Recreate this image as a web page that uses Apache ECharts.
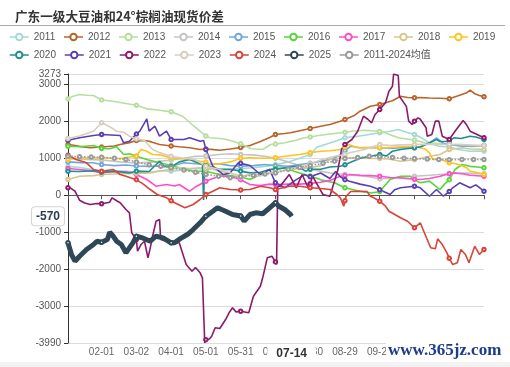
<!DOCTYPE html>
<html>
<head>
<meta charset="utf-8">
<script src="https://cdn.jsdelivr.net/npm/echarts@6/dist/echarts.min.js"></script>
<style>
html,body{margin:0;padding:0;background:#fff;}
#chart{width:510px;height:367px;}
</style>
</head>
<body>
<div id="chart"></div>
<script>
const TITLE = '广东一级大豆油和24°棕榈油现货价差';
const WATERMARK = 'www.365jz.com';
const POINTER_DATE = '07-14';
const POINTER_VALUE = -570;
const Y_MIN = -3990;
const Y_MAX = 3273;

// categories: calendar days 01-03 .. 12-27
const FIRST_DAY = [2024, 0, 3];
const DAY_COUNT = 360;

const seriesNames = ['2011','2012','2013','2014','2015','2016','2017','2018','2019','2020','2021','2022','2023','2024','2025','2011-2024均值'];
const seriesColors = ['#a3d9d6','#b8652c','#b6df9e','#c4c4c4','#6ea8de','#5ad43c','#ff4fc7','#d6c692','#ffc41e','#1f8f8f','#5a3fb0','#8c1a6c','#dacdbd','#d9443a','#2f4858','#9a9a9a'];

// [day index, value]
const s2011 = [[0,780],[10,750],[20,700],[29,640],[40,620],[50,650],[59,610],[70,620],[80,660],[89,650],[100,680],[110,720],[119,700],[130,720],[140,690],[149,720],[160,740],[170,780],[179,820],[190,900],[200,1000],[209,1100],[215,1300],[222,1370],[230,1450],[239,1550],[250,1590],[260,1640],[269,1685],[278,1728],[285,1774],[292,1700],[299,1639],[305,1550],[312,1415],[320,1324],[329,1300],[337,1234],[347,1188],[359,1190]];
const s2012 = [[0,1370],[5,1350],[10,1320],[19,1280],[29,1300],[40,1330],[45,1370],[53,1420],[59,1477],[68,1470],[72,1440],[79,1370],[89,1330],[96,1307],[105,1280],[114,1234],[119,1250],[126,1230],[131,1216],[140,1250],[149,1290],[157,1342],[166,1450],[174,1560],[179,1640],[187,1666],[192,1685],[200,1740],[209,1800],[218,1860],[226,1909],[235,2000],[239,2044],[247,2150],[252,2268],[261,2403],[269,2450],[274,2495],[280,2550],[287,2673],[293,2640],[299,2630],[304,2635],[312,2625],[321,2620],[329,2603],[338,2700],[344,2765],[347,2835],[351,2740],[355,2690],[359,2657]];
const s2013 = [[0,2600],[3,2657],[10,2719],[16,2700],[22,2692],[29,2570],[35,2550],[40,2530],[50,2476],[59,2430],[68,2332],[79,2295],[89,2251],[99,2133],[107,1909],[114,1728],[119,1600],[122,1550],[131,1530],[137,1504],[143,1450],[149,1390],[158,1253],[168,1234],[175,1369],[179,1380],[187,1415],[196,1480],[204,1550],[209,1570],[216,1612],[230,1666],[239,1700],[245,1728],[256,1755],[263,1740],[269,1720],[274,1680],[285,1550],[292,1520],[299,1490],[308,1415],[318,1400],[329,1369],[340,1369],[348,1307],[359,1342]];
const s2014 = [[0,1000],[10,980],[20,960],[29,950],[45,900],[59,870],[75,900],[89,950],[100,1000],[110,1050],[119,1060],[130,1100],[140,1120],[149,1100],[160,1090],[170,1053],[179,1000],[190,900],[200,800],[209,700],[218,650],[226,600],[239,560],[250,530],[260,500],[269,440],[278,460],[287,500],[299,513],[312,540],[329,580],[340,600],[350,590],[359,580]];
const s2015 = [[0,900],[10,880],[22,875],[29,829],[40,800],[50,815],[59,790],[70,780],[79,790],[89,783],[100,875],[110,850],[119,829],[130,850],[140,800],[149,783],[160,800],[170,829],[179,800],[190,783],[200,830],[209,860],[218,918],[228,980],[236,1099],[239,1200],[244,1324],[252,1280],[260,1290],[269,1280],[280,1270],[290,1280],[299,1280],[306,1330],[312,1415],[318,1550],[324,1400],[329,1369],[340,1324],[350,1330],[359,1342]];
const s2016 = [[0,1324],[10,1307],[22,1342],[29,1260],[36,1253],[42,1307],[45,1200],[48,1099],[53,1120],[59,1053],[68,964],[79,875],[89,800],[96,740],[108,648],[119,648],[125,600],[131,559],[140,530],[149,500],[157,424],[166,559],[174,694],[179,720],[187,740],[195,650],[200,600],[209,520],[220,400],[230,335],[239,200],[252,108],[262,60],[269,100],[278,424],[287,513],[295,513],[300,400],[304,335],[312,380],[321,154],[325,300],[329,420],[334,694],[340,829],[347,780],[353,760],[359,740]];
const s2017 = [[0,720],[10,694],[22,650],[29,604],[40,640],[45,648],[53,620],[59,559],[68,424],[76,243],[85,289],[92,250],[96,289],[105,108],[111,243],[119,378],[125,450],[131,513],[140,513],[149,420],[157,289],[166,260],[174,300],[179,290],[192,300],[200,300],[209,320],[218,350],[226,400],[235,513],[239,530],[243,559],[252,540],[261,530],[269,513],[278,480],[287,469],[299,430],[304,424],[312,450],[321,513],[329,580],[333,604],[340,580],[347,540],[359,513]];
const s2018 = [[0,424],[10,513],[22,530],[29,559],[45,580],[59,590],[71,604],[79,650],[89,700],[96,740],[105,720],[114,740],[119,720],[125,700],[131,650],[140,600],[149,513],[157,550],[166,559],[174,600],[179,620],[192,700],[209,740],[218,800],[226,964],[239,1010],[252,1000],[261,990],[269,990],[278,970],[287,918],[299,960],[312,1053],[321,1100],[329,1234],[340,1280],[347,1250],[359,1234]];
const s2019 = [[0,964],[10,1010],[20,1000],[29,1010],[45,990],[53,1030],[59,1053],[63,1234],[67,1200],[73,1099],[79,1090],[89,1010],[100,980],[114,918],[119,900],[122,829],[131,850],[140,900],[149,1000],[157,1010],[170,1000],[179,1010],[187,1053],[200,1099],[209,1150],[218,1188],[226,1200],[235,1234],[239,1300],[242,1369],[250,1280],[261,1290],[269,1280],[278,1290],[287,1307],[299,1320],[308,1250],[312,1145],[315,964],[321,980],[329,875],[335,850],[344,740],[347,648],[352,620],[359,559]];
const s2020 = [[0,648],[10,640],[22,660],[29,620],[40,650],[53,600],[59,650],[70,640],[79,918],[83,780],[89,766],[96,900],[105,964],[110,900],[116,829],[117,-130],[118,829],[119,800],[122,780],[131,694],[140,700],[149,650],[157,604],[166,620],[174,694],[179,694],[192,760],[198,783],[205,650],[209,700],[218,700],[226,760],[235,783],[239,820],[243,875],[252,1000],[261,1053],[269,1099],[275,1060],[280,1188],[287,1234],[299,1280],[304,1300],[312,1415],[318,1504],[321,1450],[329,1458],[333,1550],[339,1530],[347,1594],[352,1570],[359,1504]];
const s2021 = [[0,1480],[3,1504],[10,1550],[22,1612],[29,1639],[45,1612],[48,1415],[53,1458],[59,1650],[62,1728],[68,2063],[70,1728],[75,1863],[79,1594],[85,1728],[89,1504],[100,1504],[105,1550],[114,1458],[117,1480],[119,1234],[125,783],[134,559],[140,604],[147,875],[149,860],[157,802],[166,559],[174,694],[179,335],[187,200],[196,400],[204,550],[209,500],[218,600],[226,450],[231,640],[235,500],[239,420],[243,378],[252,300],[261,243],[269,150],[278,19],[282,150],[287,200],[299,243],[304,200],[312,-27],[318,154],[324,-27],[329,100],[332,200],[338,335],[347,200],[352,280],[359,108]];
const s2022 = [[0,200],[2,200],[6,108],[10,-135],[14,-205],[19,-251],[25,-224],[29,-230],[36,-189],[38,-70],[42,-150],[45,-205],[50,-386],[53,-475],[55,-1015],[59,-1196],[60,-1512],[63,-1331],[66,-1242],[69,-1690],[71,-1420],[73,-1107],[76,-702],[79,-656],[80,-1196],[85,-1242],[89,-1280],[96,-1285],[102,-1871],[107,-2052],[110,-1950],[114,-2095],[116,-2230],[118,-3990],[119,-3900],[122,-3880],[124,-3807],[127,-3580],[131,-3600],[136,-3356],[139,-3175],[142,-3040],[145,-3150],[149,-3132],[156,-3175],[160,-2727],[166,-2457],[168,-2230],[172,-1690],[176,-1647],[179,-1800],[180,-1871],[181,243],[183,243],[191,559],[197,200],[202,559],[208,154],[209,300],[211,513],[220,19],[226,-27],[233,694],[236,1234],[239,1369],[245,1504],[250,1728],[255,2133],[259,2044],[262,1955],[265,2179],[269,2314],[274,2495],[277,2808],[280,2943],[281,3273],[285,3232],[286,2673],[292,2400],[294,2000],[297,1909],[299,2000],[302,2089],[304,2050],[309,1820],[310,1594],[314,1639],[317,2000],[320,2000],[323,1594],[329,1504],[334,1728],[341,2017],[344,1900],[347,1728],[353,1639],[359,1550]];
const s2023 = [[0,1530],[10,1600],[22,1728],[29,1955],[36,1850],[42,1728],[48,1700],[53,1594],[59,1520],[66,1480],[73,1234],[79,1150],[89,1053],[100,1000],[110,960],[119,783],[131,694],[140,604],[148,469],[149,480],[157,560],[166,520],[174,604],[179,620],[192,700],[200,780],[209,850],[218,950],[230,1053],[239,1100],[243,1145],[256,1234],[269,1369],[278,1340],[287,1360],[299,1369],[312,1380],[329,1369],[340,1369],[359,1340]];
const s2024 = [[0,1080],[7,964],[16,875],[22,694],[29,648],[39,694],[45,559],[50,513],[59,420],[65,300],[71,154],[77,19],[85,-70],[89,-150],[92,-205],[101,-340],[108,-251],[114,-116],[119,19],[125,108],[131,200],[140,154],[149,140],[157,154],[166,243],[174,200],[179,154],[192,250],[200,243],[209,200],[218,180],[226,154],[232,19],[235,-70],[238,-297],[239,-150],[240,-27],[244,100],[252,108],[258,100],[261,-27],[264,-70],[269,-162],[274,-297],[277,-432],[282,-521],[287,-610],[293,-702],[299,-880],[304,-745],[307,-972],[310,-1196],[313,-1420],[317,-1447],[319,-1177],[323,-1331],[327,-1555],[329,-1700],[332,-1871],[336,-1825],[339,-1466],[343,-1600],[346,-1825],[351,-1377],[355,-1600],[359,-1466]];
const s2025 = [[0,-1285],[3,-1600],[6,-1782],[10,-1647],[16,-1466],[22,-1331],[25,-1242],[29,-1269],[34,-1196],[36,-999],[39,-1107],[42,-1242],[46,-1331],[50,-1555],[53,-1420],[56,-1285],[59,-1107],[65,-1160],[71,-1242],[76,-1107],[82,-1150],[89,-1285],[92,-1280],[98,-1150],[103,-1061],[108,-926],[114,-745],[119,-567],[125,-432],[129,-340],[136,-432],[142,-521],[149,-560],[152,-702],[157,-521],[162,-475],[168,-500],[174,-340],[179,-205],[182,-297],[187,-386],[192,-520],[193,-570]];
const sMean = [[0,1053],[10,1040],[20,1030],[29,1026],[40,1000],[50,964],[59,900],[70,820],[80,783],[89,740],[100,680],[110,620],[119,559],[130,513],[140,469],[149,500],[160,540],[170,570],[179,600],[190,700],[200,750],[209,800],[220,860],[230,920],[239,990],[250,1020],[260,1053],[269,1040],[280,1020],[290,1000],[299,990],[310,975],[320,964],[329,960],[340,964],[350,964],[359,964]];

const seriesPoints = [s2011,s2012,s2013,s2014,s2015,s2016,s2017,s2018,s2019,s2020,s2021,s2022,s2023,s2024,s2025,sMean];

// ---- build ----
const categories = [];
(function(){
  const d = new Date(Date.UTC(FIRST_DAY[0], FIRST_DAY[1], FIRST_DAY[2]));
  for (let i = 0; i < DAY_COUNT; i++) {
    categories.push(String(d.getUTCMonth()+1).padStart(2,'0') + '-' + String(d.getUTCDate()).padStart(2,'0'));
    d.setUTCDate(d.getUTCDate()+1);
  }
})();

function toFull(points) {
  const arr = new Array(DAY_COUNT).fill(null);
  points.forEach(p => { arr[p[0]] = p[1]; });
  return arr;
}
const labelInterval = (i) => i === 0 || i % 30 === 29;
const FONT = "'Liberation Sans', Arial, 'Noto Sans CJK SC', sans-serif";

const series = seriesNames.map((name, k) => {
  const isMean = k === seriesNames.length - 1;
  const is2025 = name === '2025';
  return {
    name: name,
    type: 'line',
    data: toFull(seriesPoints[k]),
    connectNulls: true,
    symbol: 'emptyCircle',
    symbolSize: 3.5,
    showSymbol: true,
    showAllSymbol: isMean ? true : 'auto',
    color: seriesColors[k],
    itemStyle: { color: seriesColors[k], borderWidth: 1 },
    lineStyle: { color: seriesColors[k], width: is2025 ? 5 : 1.6, type: isMean ? 'dotted' : 'solid' },
    emphasis: { disabled: true },
    silent: true,
    z: is2025 ? 4 : 2
  };
});

const legendBase = {
  left: 4,
  itemWidth: 19,
  itemHeight: 8,
  itemGap: 8,
  textStyle: { fontSize: 10, color: '#555', fontFamily: FONT },
  lineStyle: { width: 1.5, type: 'solid' }
};

const chart = echarts.init(document.getElementById('chart'), null, { renderer: 'canvas' });
chart.setOption({
  animation: false,
  backgroundColor: '#fff',
  title: {
    text: TITLE, left: 10, top: 5,
    textStyle: { fontSize: 12.6, fontWeight: 'bold', color: '#333', fontFamily: "'Noto Sans CJK SC', sans-serif" }
  },
  legend: [
    Object.assign({}, legendBase, { top: 27, data: seriesNames.slice(0, 9) }),
    Object.assign({}, legendBase, { top: 45, data: seriesNames.slice(9) })
  ],
  grid: { left: 68, right: 26, top: 74, bottom: 24 },
  xAxis: [
    {
      type: 'category', data: categories, boundaryGap: false, position: 'bottom',
      axisLine: { show: false, onZero: false },
      axisTick: { show: false },
      splitLine: { show: false },
      axisLabel: {
        interval: labelInterval,
        formatter: (v, i) => i === 0 ? '' : v,
        color: '#666', fontSize: 10, margin: 4, fontFamily: FONT
      },
      axisPointer: {
        show: true, status: 'show', value: categories.indexOf(POINTER_DATE), triggerTooltip: false,
        type: 'line', lineStyle: { color: 'rgba(0,0,0,0)', width: 0 },
        label: { show: true, backgroundColor: '#fff', color: '#333', fontWeight: 'bold', fontSize: 12,
                 padding: [2, 9], margin: 3, borderWidth: 0, shadowBlur: 0, fontFamily: FONT }
      }
    },
    {
      type: 'category', data: categories, boundaryGap: false, position: 'bottom',
      axisLine: { show: true, onZero: true, lineStyle: { color: '#555', width: 1 } },
      axisTick: { show: true, interval: labelInterval, length: 4, lineStyle: { color: '#555' } },
      axisLabel: { show: false },
      splitLine: { show: false }
    }
  ],
  yAxis: {
    type: 'value', min: Y_MIN, max: Y_MAX, splitNumber: 5, minInterval: 1000, maxInterval: 1000,
    axisLine: { show: true, lineStyle: { color: '#333' } },
    axisTick: { show: true, length: 4, lineStyle: { color: '#333' } },
    axisLabel: { color: '#555', fontSize: 10, margin: 7, fontFamily: FONT, formatter: (v) => String(v) },
    splitLine: { lineStyle: { color: '#dcdcdc', width: 1 } },
    axisPointer: {
      show: true, status: 'show', value: POINTER_VALUE, triggerTooltip: false,
      type: 'line', lineStyle: { color: 'rgba(0,0,0,0)', width: 0 },
      label: { show: true, precision: 0, backgroundColor: '#fff', borderColor: '#d5d5d5', borderWidth: 1,
               color: '#2c3e50', fontWeight: 'bold', fontSize: 12, padding: [3, 4], margin: 4,
               shadowBlur: 0, fontFamily: FONT, formatter: (p) => String(Math.round(p.value)) }
    }
  },
  series: series,
  graphic: [
    { type: 'line', silent: true, shape: { x1: 0, y1: 25.5, x2: 505, y2: 25.5 }, style: { stroke: '#aaa', lineWidth: 1 }, z: 10 },
    { type: 'rect', silent: true, shape: { x: 0, y: 362, width: 510, height: 5 }, style: { fill: '#f3f3f3' }, z: 10 },
    { type: 'text', silent: true, left: 386, top: 342, z: 100,
      style: { text: WATERMARK, fill: '#1d3c8c', font: "bold 17px 'Liberation Serif', serif",
               backgroundColor: '#fff', padding: [0, 2] } }
  ]
});
</script>
</body>
</html>
